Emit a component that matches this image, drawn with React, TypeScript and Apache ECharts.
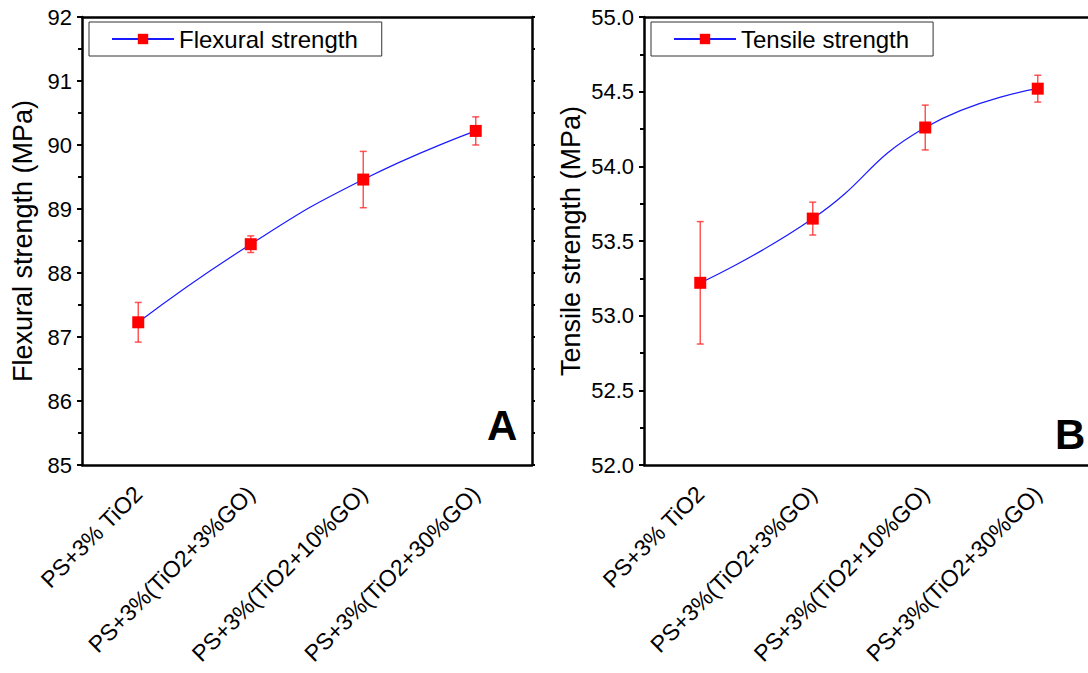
import React, { useEffect, useRef } from "react";
import * as echarts from "echarts";

// Sample compositions shared by both panels
const categories = [
  "PS+3% TiO2",
  "PS+3%(TiO2+3%GO)",
  "PS+3%(TiO2+10%GO)",
  "PS+3%(TiO2+30%GO)",
];

// Panel A: flexural strength (MPa) with standard deviation
const flexural = [87.23, 88.45, 89.46, 90.22];
const flexuralErr = [0.31, 0.13, 0.44, 0.22];

// Panel B: tensile strength (MPa) with standard deviation
const tensile = [53.22, 53.65, 54.26, 54.52];
const tensileErr = [0.41, 0.11, 0.15, 0.09];

const FONT = "Liberation Sans, Arial, sans-serif";
const AXIS_W = 2.5;

function errorSeries(values: number[], errs: number[], axisIdx: number) {
  return {
    type: "custom",
    xAxisIndex: axisIdx,
    yAxisIndex: axisIdx,
    z: 1,
    silent: true,
    data: values.map((v, i) => [i, v - errs[i], v + errs[i]]),
    renderItem: (params: any, api: any) => {
      const i = api.value(0);
      const lo = api.coord([i, api.value(1)]);
      const hi = api.coord([i, api.value(2)]);
      const cap = 3.5;
      const style = { stroke: "rgba(255,30,30,0.75)", lineWidth: 1.5 };
      return {
        type: "group",
        children: [
          { type: "line", shape: { x1: lo[0], y1: lo[1], x2: hi[0], y2: hi[1] }, style },
          { type: "line", shape: { x1: hi[0] - cap, y1: hi[1], x2: hi[0] + cap, y2: hi[1] }, style },
          { type: "line", shape: { x1: lo[0] - cap, y1: lo[1], x2: lo[0] + cap, y2: lo[1] }, style },
        ],
      };
    },
  };
}

function lineSeries(name: string, values: number[], axisIdx: number) {
  return {
    type: "line",
    name,
    xAxisIndex: axisIdx,
    yAxisIndex: axisIdx,
    z: 3,
    data: values,
    smooth: 0.5,
    symbol: "rect",
    symbolSize: 12,
    itemStyle: { color: "#ff0000" },
    lineStyle: { color: "#1a1aff", width: 1.2 },
  };
}

function bottomAxis(gridIndex: number) {
  return {
    type: "category",
    gridIndex,
    data: categories,
    position: "bottom",
    axisLine: { lineStyle: { color: "#000", width: AXIS_W } },
    axisTick: { alignWithLabel: true, length: 6, lineStyle: { width: AXIS_W, color: "#000" } },
    axisLabel: {
      rotate: 45,
      margin: 25,
      fontSize: 23,
      color: "#000",
      fontFamily: FONT,
      interval: 0,
    },
    splitLine: { show: false },
  };
}

function topAxis(gridIndex: number) {
  return {
    type: "category",
    gridIndex,
    data: categories,
    position: "top",
    axisLine: { lineStyle: { color: "#000", width: AXIS_W } },
    axisTick: { alignWithLabel: true, length: 3, lineStyle: { width: 2, color: "#000" } },
    axisLabel: { show: false },
    splitLine: { show: false },
  };
}

function leftAxis(
  gridIndex: number,
  min: number,
  max: number,
  interval: number,
  name: string,
  nameGap: number,
  digits: number
) {
  return {
    type: "value",
    gridIndex,
    position: "left",
    min,
    max,
    interval,
    name,
    nameLocation: "middle",
    nameGap,
    nameTextStyle: { fontSize: 27, color: "#000", fontFamily: FONT },
    axisLine: { show: true, lineStyle: { color: "#000", width: AXIS_W } },
    axisTick: { show: true, length: 5, lineStyle: { width: 2, color: "#000" } },
    minorTick: { show: true, splitNumber: 2, length: 4, lineStyle: { width: 2, color: "#000" } },
    axisLabel: {
      margin: 10,
      fontSize: 22,
      color: "#000",
      fontFamily: FONT,
      formatter: (v: number) => v.toFixed(digits),
    },
    splitLine: { show: false },
  };
}

function rightAxis(gridIndex: number, min: number, max: number, interval: number) {
  return {
    type: "value",
    gridIndex,
    position: "right",
    min,
    max,
    interval,
    axisLine: { show: true, lineStyle: { color: "#000", width: AXIS_W } },
    axisTick: { show: true, length: 3, lineStyle: { width: 2, color: "#000" } },
    minorTick: { show: true, splitNumber: 2, length: 3, lineStyle: { width: 2, color: "#000" } },
    axisLabel: { show: false },
    splitLine: { show: false },
  };
}

function legend(name: string, left: number) {
  return {
    data: [name],
    left,
    top: 22,
    orient: "horizontal",
    borderColor: "#333",
    borderWidth: 1,
    borderRadius: 0,
    padding: [5, 24, 5, 22],
    itemWidth: 62,
    itemHeight: 13,
    textStyle: { fontSize: 24, color: "#000", fontFamily: FONT },
  };
}

export default function App() {
  const ref = useRef<HTMLDivElement>(null);

  useEffect(() => {
    if (!ref.current) return;
    const chart = echarts.init(ref.current, undefined, { renderer: "svg" });
    chart.setOption({
      animation: false,
      backgroundColor: "#fff",
      textStyle: { fontFamily: FONT },
      grid: [
        { left: 82, top: 17, width: 450, height: 448, outerBoundsMode: "none", containLabel: false },
        { left: 644, top: 17, width: 450, height: 448, outerBoundsMode: "none", containLabel: false },
      ],
      legend: [legend("Flexural strength", 89), legend("Tensile strength", 651)],
      xAxis: [bottomAxis(0), bottomAxis(1), topAxis(0), topAxis(1)],
      yAxis: [
        leftAxis(0, 85, 92, 1, "Flexural strength (MPa)", 46, 0),
        leftAxis(1, 52, 55, 0.5, "Tensile strength (MPa)", 60, 1),
        rightAxis(0, 85, 92, 1),
        rightAxis(1, 52, 55, 0.5),
      ],
      series: [
        errorSeries(flexural, flexuralErr, 0),
        lineSeries("Flexural strength", flexural, 0),
        errorSeries(tensile, tensileErr, 1),
        lineSeries("Tensile strength", tensile, 1),
      ],
      graphic: [
        {
          type: "text",
          left: 487,
          top: 404,
          style: { text: "A", fontSize: 42, fontWeight: "bold", fill: "#000", fontFamily: FONT },
        },
        {
          type: "text",
          left: 1055,
          top: 413,
          style: { text: "B", fontSize: 42, fontWeight: "bold", fill: "#000", fontFamily: FONT },
        },
      ],
    });
    return () => chart.dispose();
  }, []);

  return (
    <div
      ref={ref}
      style={{ position: "absolute", left: 0, top: 0, width: 1088, height: 673, background: "#fff" }}
    />
  );
}
